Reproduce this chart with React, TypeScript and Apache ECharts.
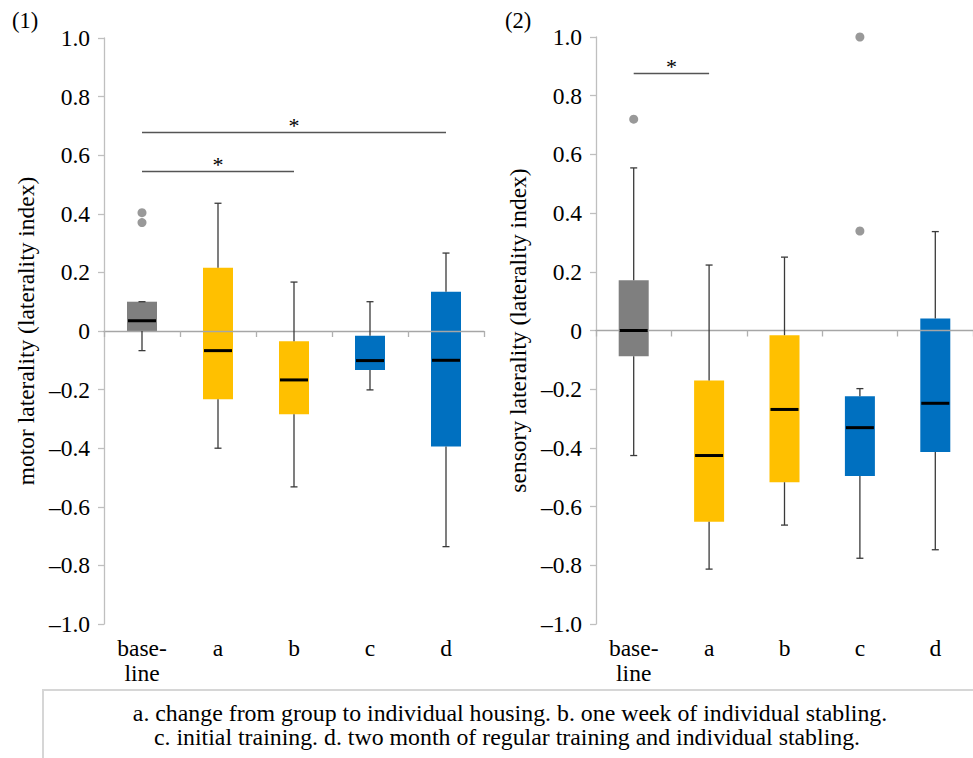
import React, { useEffect, useRef } from "react";
import * as echarts from "echarts";

const categories = ["base-\nline", "a", "b", "c", "d"];
const boxColors = ["#7f7f7f", "#ffc000", "#ffc000", "#0070c0", "#0070c0"];

// [min, Q1, median, Q3, max]
const motorStats = [
  [-0.067, 0.0, 0.035, 0.1, 0.1],
  [-0.4, -0.233, -0.067, 0.216, 0.436],
  [-0.532, -0.284, -0.167, -0.035, 0.167],
  [-0.201, -0.133, -0.101, -0.016, 0.1],
  [-0.736, -0.394, -0.1, 0.134, 0.266],
];
const motorOutliers = [
  [0, 0.404],
  [0, 0.37],
];
const motorSig = [
  { from: 0, to: 4, y: 0.677 },
  { from: 0, to: 2, y: 0.544 },
];

const sensoryStats = [
  [-0.426, -0.088, 0.0, 0.171, 0.554],
  [-0.813, -0.652, -0.426, -0.17, 0.223],
  [-0.663, -0.517, -0.269, -0.016, 0.25],
  [-0.776, -0.496, -0.331, -0.224, -0.198],
  [-0.747, -0.414, -0.248, 0.041, 0.337],
];
const sensoryOutliers = [
  [0, 0.72],
  [3, 1.0],
  [3, 0.339],
];
const sensorySig = [{ from: 0, to: 1, y: 0.877 }];

const yTickValues = [-1.0, -0.8, -0.6, -0.4, -0.2, 0, 0.2, 0.4, 0.6, 0.8, 1.0];
const yTickLabels = ["–1.0", "–0.8", "–0.6", "–0.4", "–0.2", "0", "0.2", "0.4", "0.6", "0.8", "1.0"];

const panelTitles = ["(1)", "(2)"];
const yNames = ["motor laterality (laterality index)", "sensory laterality (laterality index)"];
const captionLines = [
  "a. change from group to individual housing. b. one week of individual stabling.",
  "c. initial training. d. two month of regular training and individual stabling.",
];

const FONT = "Liberation Serif";
const BOX_W = 30;

function tickFormatter(v: number) {
  let best = 0;
  let bd = Infinity;
  yTickValues.forEach((t, i) => {
    const d = Math.abs(t - v);
    if (d < bd) {
      bd = d;
      best = i;
    }
  });
  return yTickLabels[best];
}

function renderBoxBody(params: any, api: any) {
  const cat = api.value(0);
  const cx = api.coord([cat, 0])[0];
  const yQ1 = api.coord([cat, api.value(2)])[1];
  const yQ3 = api.coord([cat, api.value(4)])[1];
  return {
    type: "rect",
    shape: { x: cx - BOX_W / 2, y: yQ3, width: BOX_W, height: yQ1 - yQ3 },
    style: { fill: boxColors[cat] },
  };
}

function renderBoxLines(params: any, api: any) {
  const cat = api.value(0);
  const cx = api.coord([cat, 0])[0];
  const yMin = api.coord([cat, api.value(1)])[1];
  const yQ1 = api.coord([cat, api.value(2)])[1];
  const yMd = api.coord([cat, api.value(3)])[1];
  const yQ3 = api.coord([cat, api.value(4)])[1];
  const yMax = api.coord([cat, api.value(5)])[1];
  const cap = 3.5;
  const wStyle = { stroke: "#3a3a3a", lineWidth: 1.3 };
  return {
    type: "group",
    children: [
      { type: "line", shape: { x1: cx, y1: yQ3, x2: cx, y2: yMax }, style: wStyle },
      { type: "line", shape: { x1: cx - cap, y1: yMax, x2: cx + cap, y2: yMax }, style: wStyle },
      { type: "line", shape: { x1: cx, y1: yQ1, x2: cx, y2: yMin }, style: wStyle },
      { type: "line", shape: { x1: cx - cap, y1: yMin, x2: cx + cap, y2: yMin }, style: wStyle },
      {
        type: "line",
        shape: { x1: cx - BOX_W / 2 + 1, y1: yMd, x2: cx + BOX_W / 2 - 1, y2: yMd },
        style: { stroke: "#000", lineWidth: 3 },
      },
    ],
  };
}

export default function App() {
  const ref = useRef<HTMLDivElement>(null);
  useEffect(() => {
    if (!ref.current) return;
    const chart = echarts.init(ref.current, null, { renderer: "svg" });

    const panels = [
      { stats: motorStats, outliers: motorOutliers, sig: motorSig },
      { stats: sensoryStats, outliers: sensoryOutliers, sig: sensorySig },
    ];

    const grids = [
      { left: 104, top: 38, width: 380, height: 586 },
      { left: 596, top: 37, width: 377, height: 587 },
    ];

    const xAxis: any[] = [];
    const yAxis: any[] = [];
    const series: any[] = [];

    panels.forEach((p, gi) => {
      xAxis.push({
        gridIndex: gi,
        type: "category",
        data: categories,
        position: "bottom",
        z: 3,
        axisLine: { show: true, onZero: true, lineStyle: { color: "#a6a6a6", width: 1.3 } },
        axisTick: { show: true, length: 6, lineStyle: { color: "#b0b0b0", width: 1.3 } },
        axisLabel: { show: false },
        splitLine: { show: false },
      });
      xAxis.push({
        gridIndex: gi,
        type: "category",
        data: categories,
        position: "bottom",
        axisLine: { show: false, onZero: false },
        axisTick: { show: false },
        axisLabel: {
          show: true,
          interval: 0,
          fontSize: 23.5,
          lineHeight: 25,
          fontFamily: FONT,
          color: "#000",
          margin: 11,
        },
        splitLine: { show: false },
      });
      yAxis.push({
        gridIndex: gi,
        type: "value",
        min: -1,
        max: 1,
        interval: 0.2,
        name: yNames[gi],
        nameLocation: "middle",
        nameGap: 66,
        nameTextStyle: { fontSize: 23.5, fontFamily: FONT, color: "#000" },
        axisLine: { show: true, lineStyle: { color: "#bfbfbf", width: 1.3 } },
        axisTick: { show: true, length: 6, lineStyle: { color: "#bfbfbf", width: 1.3 } },
        axisLabel: {
          fontSize: 23.5,
          fontFamily: FONT,
          color: "#000",
          margin: 14,
          formatter: tickFormatter,
        },
        splitLine: { show: false },
      });

      const boxData = p.stats.map((s, i) => [i, ...s]);
      series.push({
        type: "custom",
        xAxisIndex: gi * 2,
        yAxisIndex: gi,
        renderItem: renderBoxBody,
        encode: { x: 0, y: [1, 2, 3, 4, 5] },
        data: boxData,
        silent: true,
        z: 2,
      });
      series.push({
        type: "custom",
        xAxisIndex: gi * 2,
        yAxisIndex: gi,
        renderItem: renderBoxLines,
        encode: { x: 0, y: [1, 2, 3, 4, 5] },
        data: boxData,
        silent: true,
        z: 4,
      });
      series.push({
        type: "scatter",
        xAxisIndex: gi * 2,
        yAxisIndex: gi,
        symbol: "circle",
        symbolSize: 9,
        itemStyle: { color: "#7f7f7f" },
        data: p.outliers,
        silent: true,
        z: 5,
        markLine: {
          silent: true,
          symbol: ["none", "none"],
          lineStyle: { color: "#555", width: 1.3, type: "solid" },
          label: {
            show: true,
            formatter: "*",
            position: "insideMiddleTop",
            distance: -4,
            fontSize: 22,
            fontFamily: FONT,
            color: "#000",
          },
          emphasis: { disabled: true },
          data: p.sig.map((s) => [
            { coord: [s.from, s.y] },
            { coord: [s.to, s.y] },
          ]),
        },
      });
    });

    chart.setOption({
      animation: false,
      backgroundColor: "#fff",
      grid: grids,
      xAxis,
      yAxis,
      series,
      graphic: [
        {
          type: "text",
          left: 12,
          top: 9,
          style: { text: panelTitles[0], fontSize: 22.5, fontFamily: FONT, fill: "#000" },
        },
        {
          type: "text",
          left: 505,
          top: 9,
          style: { text: panelTitles[1], fontSize: 22.5, fontFamily: FONT, fill: "#000" },
        },
        {
          type: "rect",
          shape: { x: 43, y: 690, width: 960, height: 100 },
          style: { fill: "none", stroke: "#d6d6d6", lineWidth: 2 },
        },
        {
          type: "text",
          x: 510,
          y: 713,
          scaleX: 1.037,
          style: {
            text: captionLines[0],
            fontSize: 23,
            fontFamily: FONT,
            fill: "#000",
            align: "center",
            verticalAlign: "middle",
          },
        },
        {
          type: "text",
          x: 507,
          y: 737,
          scaleX: 1.037,
          style: {
            text: captionLines[1],
            fontSize: 23,
            fontFamily: FONT,
            fill: "#000",
            align: "center",
            verticalAlign: "middle",
          },
        },
      ],
    });

    return () => chart.dispose();
  }, []);

  return (
    <div
      ref={ref}
      style={{ position: "fixed", left: 0, top: 0, width: 973, height: 758, background: "#fff" }}
    />
  );
}
